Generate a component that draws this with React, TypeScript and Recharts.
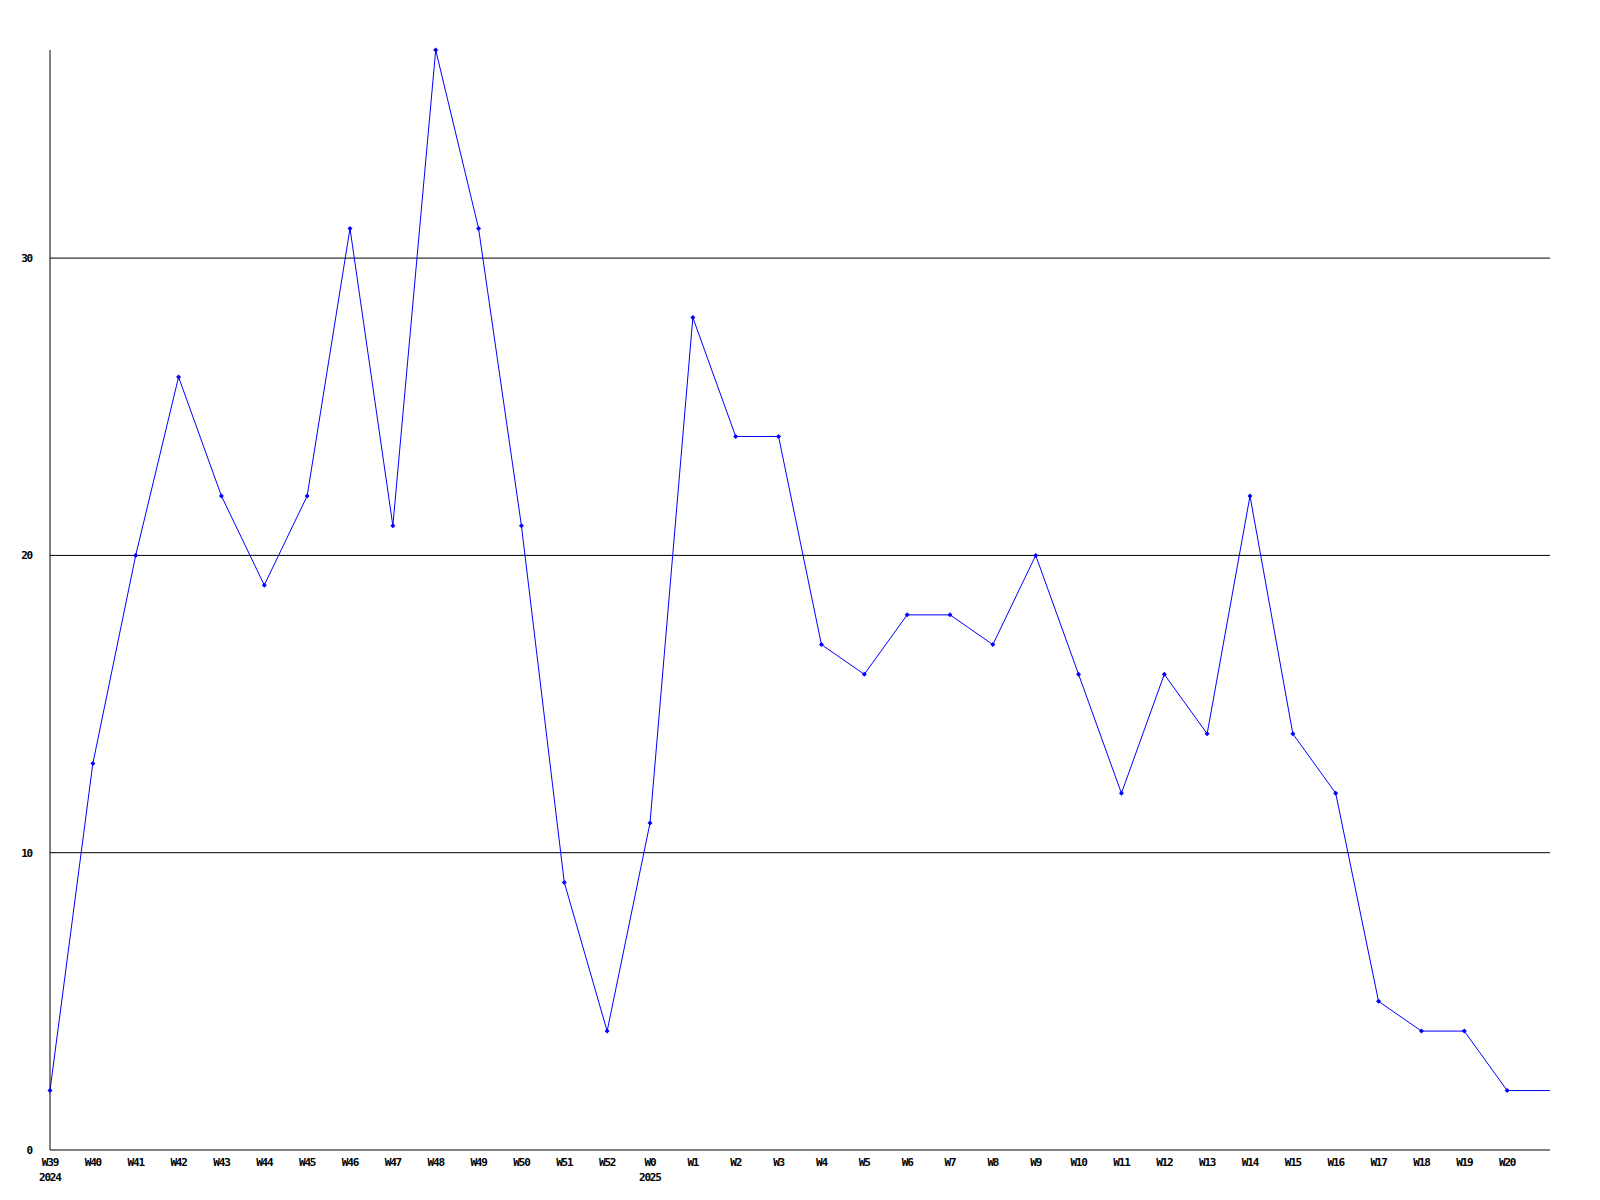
import React from "react";
import { LineChart, Line, XAxis, YAxis, ReferenceLine } from "recharts";

// week labels, last slot is the unlabeled end of the line
const weeks = [
  "W39", "W40", "W41", "W42", "W43", "W44", "W45", "W46", "W47", "W48", "W49", "W50", "W51", "W52",
  "W0", "W1", "W2", "W3", "W4", "W5", "W6", "W7", "W8", "W9", "W10", "W11", "W12", "W13", "W14",
  "W15", "W16", "W17", "W18", "W19", "W20", "",
];
const years = ["2024", "", "", "", "", "", "", "", "", "", "", "", "", "", "2025"];
const counts = [
  2, 13, 20, 26, 22, 19, 22, 31, 21, 37, 31, 21, 9, 4,
  11, 28, 24, 24, 17, 16, 18, 18, 17, 20, 16, 12, 16, 14, 22,
  14, 12, 5, 4, 4, 2, 2,
];
const yTicks = [0, 10, 20, 30];
const gridValues = [10, 20, 30];

const data = weeks.map((w, i) => ({ week: w, value: counts[i] }));

const font = "'DejaVu Sans Mono', 'Liberation Mono', monospace";

const WeekTick = (props: any) => {
  const { x, y, payload, index } = props;
  const year = years[index] || "";
  return (
    <g>
      <text x={x} y={y + 8} textAnchor="middle" fontFamily={font} fontWeight="bold" fontSize={11} fill="#000" letterSpacing={-1.2}>
        {payload.value}
      </text>
      {year && (
        <text x={x - 11} y={y + 23} textAnchor="start" fontFamily={font} fontWeight="bold" fontSize={11} fill="#000" letterSpacing={-1.2}>
          {year}
        </text>
      )}
    </g>
  );
};

const Marker = (props: any) => {
  const { cx, cy, index } = props;
  if (index === counts.length - 1) return <g key={`d${index}`} />;
  return (
    <path
      key={`d${index}`}
      d={`M${cx},${cy - 2.5}L${cx + 2.5},${cy}L${cx},${cy + 2.5}L${cx - 2.5},${cy}Z`}
      fill="#0000ff"
      stroke="none"
    />
  );
};

export default function App() {
  return (
    <div style={{ position: "absolute", left: 0, top: 0, background: "#fff" }}>
      <LineChart width={1600} height={1200} data={data} margin={{ top: 50, right: 50, left: 0, bottom: 0 }}>
        {gridValues.map((v) => (
          <ReferenceLine key={v} y={v} stroke="#000" strokeWidth={1} />
        ))}
        <XAxis
          dataKey="week"
          height={50}
          axisLine={{ stroke: "#000" }}
          tickLine={false}
          interval={0}
          tick={<WeekTick />}
        />
        <YAxis
          width={50}
          domain={[0, 37]}
          ticks={yTicks}
          axisLine={{ stroke: "#000" }}
          tickLine={false}
          tickMargin={12}
          tick={{ fontFamily: font, fontWeight: "bold", fontSize: 11, fill: "#000", letterSpacing: -1.2 }}
        />
        <Line
          type="linear"
          dataKey="value"
          stroke="#0000ff"
          strokeWidth={1}
          dot={<Marker />}
          activeDot={false}
          isAnimationActive={false}
        />
      </LineChart>
    </div>
  );
}
